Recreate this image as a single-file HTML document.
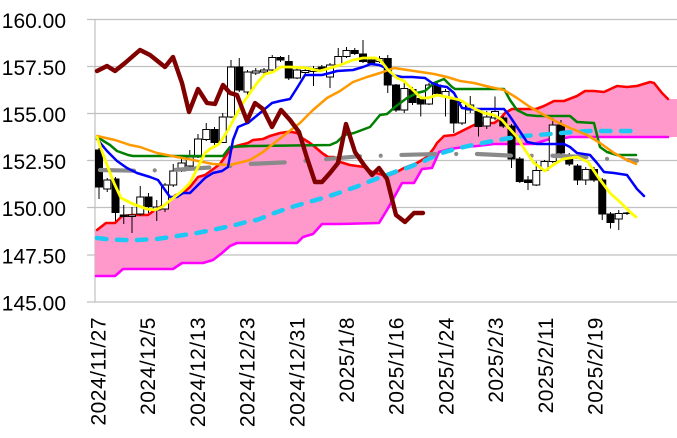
<!DOCTYPE html>
<html>
<head>
<meta charset="utf-8">
<style>
  html,body{margin:0;padding:0;background:#fff;}
  svg{display:block;}
  text{font-family:"Liberation Sans","Noto Sans CJK JP",sans-serif;fill:#000;}
</style>
</head>
<body>
<svg width="677" height="438" viewBox="0 0 677 438" xmlns="http://www.w3.org/2000/svg">
  <rect x="0" y="0" width="677" height="438" fill="#fff"/>

  <!-- gridlines -->
  <g stroke="#c0c0c0" stroke-width="1.2">
    <line x1="87" y1="19.5" x2="677" y2="19.5"/>
    <line x1="87" y1="66.5" x2="677" y2="66.5"/>
    <line x1="87" y1="113.5" x2="677" y2="113.5"/>
    <line x1="87" y1="160.5" x2="677" y2="160.5"/>
    <line x1="87" y1="207.5" x2="677" y2="207.5"/>
    <line x1="87" y1="255" x2="677" y2="255"/>
    <line x1="87" y1="302" x2="677" y2="302"/>
    <line x1="95" y1="19.5" x2="95" y2="302"/>
  </g>

  <!-- y labels -->
  <g font-size="21" text-anchor="end">
    <text x="66" y="28">160.00</text>
    <text x="66" y="75">157.50</text>
    <text x="66" y="122">155.00</text>
    <text x="66" y="169">152.50</text>
    <text x="66" y="216">150.00</text>
    <text x="66" y="263.5">147.50</text>
    <text x="66" y="310.5">145.00</text>
  </g>

  <!-- x labels -->
  <g font-size="21" text-anchor="end" letter-spacing="0.5">
    <text transform="translate(105.5,317) rotate(-90)">2024/11/27</text>
    <text transform="translate(155.2,317) rotate(-90)">2024/12/5</text>
    <text transform="translate(204.9,317) rotate(-90)">2024/12/13</text>
    <text transform="translate(254.6,317) rotate(-90)">2024/12/23</text>
    <text transform="translate(304.3,317) rotate(-90)">2024/12/31</text>
    <text transform="translate(354,317) rotate(-90)">2025/1/8</text>
    <text transform="translate(403.7,317) rotate(-90)">2025/1/16</text>
    <text transform="translate(453.4,317) rotate(-90)">2025/1/24</text>
    <text transform="translate(503.1,317) rotate(-90)">2025/2/3</text>
    <text transform="translate(552.8,317) rotate(-90)">2025/2/11</text>
    <text transform="translate(602.5,317) rotate(-90)">2025/2/19</text>
  </g>

  <!-- cloud fill -->
  <polygon fill="#ff99cc" points="95,231 98,230 106,223 115,223 122,216 133,215 148,215 155,210 167,203 176,195 183,193 190,187 198,177 205,175 212,170 220,164 227,154 233,147 240,145 248,143 253,140 263,139 270,136 280,133 287,132 292,132 297,133 302,138 310,143 315,147 322,153 328,157 334,157 340,162 350,165 364,167 372,172 387,176 395,173 404,168 417,163 427,157 434,148 437,143 444,136 454,135 464,130 474,125 484,123 494,123 500,119 505,113 512,109 536,109 544,106 554,101 564,101 577,96 585,91 594,91 604,92 617,86 627,87 637,86 650,82 654,83 662,93 668,99 677,99 677,137 668,137 570,137 560,139 550,139 540,142 534,144 494,144 477,146 464,147 450,149 439,152 432,168 422,169 414,183 402,183 387,210 379,223 340,224 322,224 313,234 303,237 297,243 237,243 230,246 222,253 213,260 203,263 182,263 173,269 123,269 115,276 95,276"/>

  <g fill="none" stroke-linejoin="round" stroke-linecap="round">
    <!-- span A (red) -->
    <polyline stroke="#ff0000" stroke-width="2.6" points="97,230 106,223 115,223 122,216 133,215 148,215 155,210 167,203 176,195 183,193 190,187 198,177 205,175 212,170 220,164 227,154 233,147 240,145 248,143 253,140 263,139 270,136 280,133 287,132 292,132 297,133 302,138 310,143 315,147 322,153 328,157 334,157 340,162 350,165 364,167 372,172 387,176 395,173 404,168 417,163 427,157 434,148 437,143 444,136 454,135 464,130 474,125 484,123 494,123 500,119 505,113 512,109 536,109 544,106 554,101 564,101 577,96 585,91 594,91 604,92 617,86 627,87 637,86 650,82 654,83 662,93 668,99"/>
    <!-- span B (magenta) -->
    <polyline stroke="#ff00ff" stroke-width="2.6" points="96,276 115,276 123,269 173,269 182,263 203,263 213,260 222,253 230,246 237,243 297,243 303,237 313,234 322,224 340,224 379,223 387,210 402,183 414,183 422,169 432,168 439,152 450,149 464,147 477,146 494,144 534,144 540,142 550,139 560,139 570,137 668,137"/>
  </g>

  <!-- candle wicks -->
  <path fill="none" stroke="#000" stroke-width="1" d="M99 148V199M107.25 178V192M115.5 177V221M123.75 205V224M132 207V233M140.25 186V216M148.5 193V213M156.75 200V221M165 183V212M173.25 164V187M181.5 156V172M189.75 150V168M198 134V158M206.25 123V141M214.5 127V145M222.75 113V143M231 60V118M239.25 58V92M247.5 70V95M255.75 68V75M264 68V74M272.25 55V71M280.5 56V62M288.75 55V80M297 68V79M305.25 68V74M313.5 66V86M321.75 65V71M330 63V88M338.25 48V66M346.5 47V58M354.75 48V55M363 40V63M371.25 57V65M379.5 56V63M387.75 55V93M396 84V112M404.25 83V113M412.5 87V105M420.75 96V116.5M429 83V105M437.25 83V95M445.5 89V116.5M453.75 98V133M462 100V125M470.25 96V113M478.5 109V136.5M486.75 111V129M495 96.5V120M503.25 116V128M511.5 124V168M519.75 157V183M528 176V190M536.25 161.5V186M544.5 160V172M552.75 118V163M561 120V155M569.25 153V166M577.5 164V185M585.75 167V185M594 167V182M602.25 178V220M610.5 212V228.5M618.75 210V230M627 212V215"/>

  <!-- candle bodies -->
  <g stroke="#000" stroke-width="1">
    <g fill="#000">
      <rect x="95.5" y="150" width="7" height="37"/>
      <rect x="112" y="179" width="7" height="33.5"/>
      <rect x="120.25" y="215" width="7" height="1.5"/>
      <rect x="145" y="197" width="7" height="9.5"/>
      <rect x="211" y="129.5" width="7" height="13"/>
      <rect x="235.75" y="67" width="7" height="23"/>
      <rect x="277" y="57.5" width="7" height="2.5"/>
      <rect x="285.25" y="61.5" width="7" height="16.5"/>
      <rect x="318.25" y="67" width="7" height="2.5"/>
      <rect x="351.25" y="50.5" width="7" height="3"/>
      <rect x="359.5" y="54" width="7" height="7.5"/>
      <rect x="367.75" y="60" width="7" height="3"/>
      <rect x="384.25" y="58.5" width="7" height="26.5"/>
      <rect x="392.5" y="85" width="7" height="25"/>
      <rect x="409" y="89.5" width="7" height="13"/>
      <rect x="417.25" y="98.5" width="7" height="5.5"/>
      <rect x="433.75" y="85" width="7" height="8.5"/>
      <rect x="450.25" y="100" width="7" height="23"/>
      <rect x="475" y="111.5" width="7" height="15"/>
      <rect x="499.75" y="118" width="7" height="8"/>
      <rect x="508" y="126" width="7" height="33"/>
      <rect x="516.25" y="159" width="7" height="22.5"/>
      <rect x="524.5" y="180" width="7" height="2.5"/>
      <rect x="557.5" y="125" width="7" height="28"/>
      <rect x="565.75" y="155" width="7" height="9"/>
      <rect x="574" y="166" width="7" height="14"/>
      <rect x="590.5" y="169.5" width="7" height="10.5"/>
      <rect x="598.75" y="180" width="7" height="34"/>
      <rect x="607" y="214" width="7" height="8.5"/>
    </g>
    <g fill="#fff">
      <rect x="103.75" y="180" width="7" height="9"/>
      <rect x="128.5" y="215" width="7" height="1.5"/>
      <rect x="136.75" y="197" width="7" height="17"/>
      <rect x="153.25" y="207" width="7" height="3"/>
      <rect x="161.5" y="185" width="7" height="24"/>
      <rect x="169.75" y="171" width="7" height="14"/>
      <rect x="178" y="163" width="7" height="8"/>
      <rect x="186.25" y="157" width="7" height="9"/>
      <rect x="194.5" y="139" width="7" height="18"/>
      <rect x="202.75" y="129.5" width="7" height="10"/>
      <rect x="219.25" y="117" width="7" height="25.5"/>
      <rect x="227.5" y="67" width="7" height="50"/>
      <rect x="244" y="72" width="7" height="20"/>
      <rect x="252.25" y="71" width="7" height="2"/>
      <rect x="260.5" y="70" width="7" height="2"/>
      <rect x="268.75" y="57.5" width="7" height="12.5"/>
      <rect x="293.5" y="70" width="7" height="8"/>
      <rect x="301.75" y="70.5" width="7" height="2"/>
      <rect x="310" y="68.5" width="7" height="3"/>
      <rect x="326.5" y="65" width="7" height="12"/>
      <rect x="334.75" y="56.5" width="7" height="8.5"/>
      <rect x="343" y="50.5" width="7" height="6"/>
      <rect x="376" y="58.5" width="7" height="3"/>
      <rect x="400.75" y="88.5" width="7" height="21.5"/>
      <rect x="425.5" y="85" width="7" height="19"/>
      <rect x="442" y="91.5" width="7" height="5"/>
      <rect x="458.5" y="102.5" width="7" height="20.5"/>
      <rect x="466.75" y="105" width="7" height="5"/>
      <rect x="483.25" y="117" width="7" height="9"/>
      <rect x="491.5" y="111.5" width="7" height="6.5"/>
      <rect x="532.75" y="170.5" width="7" height="14.5"/>
      <rect x="541" y="161.5" width="7" height="9"/>
      <rect x="549.25" y="125" width="7" height="36.5"/>
      <rect x="582.25" y="169.5" width="7" height="10.5"/>
      <rect x="615.25" y="213.5" width="7" height="5.5"/>
      <rect x="623.5" y="213" width="7" height="0.5"/>
    </g>
  </g>

  <g fill="none" stroke-linejoin="round" stroke-linecap="round">
    <!-- cyan dashed -->
    <polyline stroke="#1ec8f5" stroke-width="4.5" stroke-dasharray="9.5 10.5" points="97,238 110,239.5 123,240 138,240 157,239 177,236 197,233 217,229 237,224.5 250,221 257,220 273,213.5 290,207.5 307,202.5 323,198 340,192.5 357,186.5 373,180 387,175 400,170 407,168 423,161.5 440,153.5 457,148.5 473,145 490,141.5 507,138.5 523,136 537,135 550,134 567,132.5 588,131 610,131 637,131"/>
    <!-- gray dash-dot -->
    <polyline stroke="#8a8a8a" stroke-width="4.2" stroke-dasharray="34 20.75 0.01 20.75" points="100,170 135,170.7 173,170 212,167.3 231,166 248,164 287,162.3 306,160.7 325,159.3 362,156 382,155.7 400,155 438,154 477,154 513,155.7 533,155.7 552,155.7 590,157.3 608,159 627,160 637,160.7"/>
    <!-- green -->
    <polyline stroke="#008000" stroke-width="2.5" points="97,137 110,145 117,151 128,155 133,156 223,156 230,147 250,146 330,145 337,142 344,135 354,133 370,127 380,115 387,114 395,107 407,98 417,93 425,91 434,83 444,79 452,87 455,89 504,89 510,100 517,110 527,115 537,116 570,116 577,122 594,123 600,147 607,152 617,155 636,155"/>
    <!-- orange -->
    <polyline stroke="#ff9900" stroke-width="2.5" points="97,136 115,140 130,145 140,147 157,153 177,157 193,160 213,164 230,165 250,160 263,152 273,144 287,133 300,123 313,110 327,98 340,91 353,82 367,77 380,73 394,68 414,71 434,74 447,77 460,81 474,83 490,87 504,90 517,98 530,107 544,115 557,122 570,128 587,135 600,143 614,153 627,160 636,164"/>
    <!-- blue -->
    <polyline stroke="#0000ff" stroke-width="2.5" points="97,139 107,151 117,161 127,168 137,173 150,177 158,180 165,190 170,197 177,197 183,193 190,193 198,185 205,178 213,173 222,171 228,167 233,140 238,127 245,124 248,123 260,113 272,103 280,101 290,99 297,88 305,75 322,75 330,73 337,71 353,70 363,67 371,64 379,65 386,68 392,75 402,77 412,77 425,78 432,83 440,86 447,87 454,93 462,108 470,109 504,109 509,115 517,127 527,142 537,144 564,144 570,147 577,153 590,155 597,163 604,172 614,173 627,175 637,189 644,196"/>
    <!-- yellow -->
    <polyline stroke="#ffff00" stroke-width="2.8" points="97,137 104,157 114,183 121,198 133,204 147,209 155,210 162,207 172,199 182,191 190,183 198,167 205,153 210,149 219,144 227,132 235,117 243,103 250,93 257,83 265,74 273,72 281,67 290,67 307,68 320,71 330,68 340,65 353,60 363,58 376,58 381,61 388,70 397,78 404,81 413,90 421,98 428,98 437,95 447,97 460,100 473,108 484,113 494,115 502,120 508,127 517,137 525,150 534,163 545,171 553,165 563,159 577,157 588,162 598,177 610,193 620,202 630,212 636,217"/>
    <!-- chikou (maroon) -->
    <polyline stroke="#800000" stroke-width="4.4" points="97,71 107,66 115,71 125,63 140,50 150,55 165,67 173,57 182,83 189,112 198,89 207,103 215,104 223,85 230,93 237,95 247,121 255,103 263,109 272,127 281,110 290,120 299,132 307,158 315,182 322,182 330,173 338,163 346,124 355,152 364,165 372,175 379,168 387,179 393,203 396,215 405,222 414,213 423,213"/>
  </g>
</svg>
</body>
</html>
